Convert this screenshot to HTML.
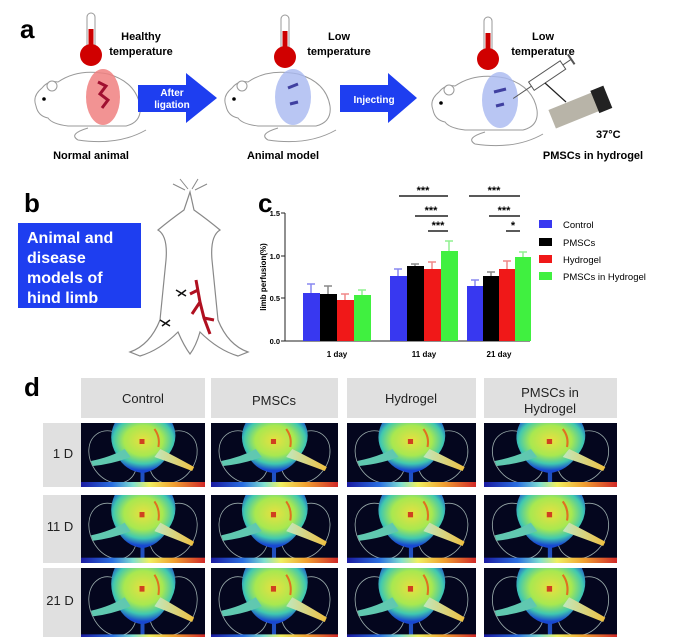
<!DOCTYPE html>
<html><head><meta charset="utf-8">
<style>
html,body{margin:0;padding:0;background:#fff;}
body{width:682px;height:637px;overflow:hidden;position:relative;font-family:"Liberation Sans",sans-serif;}
svg{position:absolute;left:0;top:0;}
</style></head><body>
<svg width="682" height="637" viewBox="0 0 682 637" font-family="Liberation Sans, sans-serif">
<defs>
<linearGradient id="cb" x1="0" x2="1" y1="0" y2="0">
<stop offset="0" stop-color="#1a1aa0"/><stop offset="0.25" stop-color="#2a6ee0"/><stop offset="0.42" stop-color="#80e0d0"/><stop offset="0.55" stop-color="#f0f060"/><stop offset="0.75" stop-color="#f0a030"/><stop offset="1" stop-color="#d02828"/>
</linearGradient>
<radialGradient id="body" cx="0.5" cy="0.35" r="0.6">
<stop offset="0" stop-color="#e8e040"/><stop offset="0.5" stop-color="#a8e850"/><stop offset="0.78" stop-color="#40c8b0"/><stop offset="1" stop-color="#1848d0"/>
</radialGradient>
<linearGradient id="leg" x1="0" x2="1"><stop offset="0" stop-color="#c0e8c0"/><stop offset="1" stop-color="#f0c040"/></linearGradient>
<g id="heat">
<rect x="0" y="0" width="125" height="64" fill="#04061e"/>
<ellipse cx="32" cy="34" rx="22" ry="28" fill="none" stroke="#9aa" stroke-width="0.8" transform="rotate(-35 32 34)"/>
<ellipse cx="93" cy="34" rx="22" ry="28" fill="none" stroke="#9aa" stroke-width="0.8" transform="rotate(35 93 34)"/>
<rect x="60" y="40" width="4" height="24" fill="#2050c0"/>
<path d="M34 0 L92 0 Q100 16 88 32 Q78 48 62 50 Q44 48 36 32 Q26 16 34 0Z" fill="url(#body)"/>
<path d="M44 26 Q30 34 10 38 L12 43 Q32 41 50 34Z" fill="#60c8b0"/>
<path d="M80 26 Q96 34 114 44 L112 48 Q94 41 74 34Z" fill="url(#leg)"/>
<rect x="59" y="16" width="5" height="5" fill="#d04020"/>
<path d="M74 6 Q80 14 78 24" stroke="#e07020" stroke-width="2" fill="none"/>
<rect x="0" y="59" width="125" height="5" fill="url(#cb)"/>
</g>
<g id="mouse" fill="#fff" stroke="#999" stroke-width="1">
<path d="M8 40 Q4 30 14 22 Q20 14 30 16 Q50 2 80 8 Q108 16 112 40 Q114 56 98 60 L40 60 Q24 58 20 52 Q10 50 8 40Z"/>
<circle cx="24" cy="20" r="5"/>
<path d="M60 62 Q40 68 50 74 Q90 80 118 64" fill="none"/>
<circle cx="16" cy="33" r="1.8" fill="#000" stroke="none"/>
</g>
<g id="therm">
<rect x="-4" y="-42" width="8" height="40" rx="4" fill="#fff" stroke="#999"/>
<rect x="-2.5" y="-26" width="5" height="24" fill="#c00"/>
<circle cx="0" cy="0" r="11" fill="#d00000"/>
</g>
</defs>

<!-- panel a -->
<text x="20" y="38" font-size="26" font-weight="bold">a</text>
<use href="#therm" x="91" y="55"/>
<text x="141" y="40" font-size="11" font-weight="bold" text-anchor="middle">Healthy</text>
<text x="141" y="55" font-size="11" font-weight="bold" text-anchor="middle">temperature</text>
<use href="#mouse" x="28" y="66"/>
<ellipse cx="103" cy="97" rx="17" ry="28" fill="#f08080" opacity="0.85"/>
<path d="M98 82 L106 86 L100 94 L108 100 L102 108" stroke="#a01030" stroke-width="3" fill="none"/>
<path d="M138 85 H186 V73 L217 98 L186 123 V112 H138Z" fill="#1e3ef0"/>
<text x="172" y="96" font-size="10" font-weight="bold" fill="#fff" text-anchor="middle">After</text>
<text x="172" y="108" font-size="10" font-weight="bold" fill="#fff" text-anchor="middle">ligation</text>
<text x="91" y="159" font-size="11" font-weight="bold" text-anchor="middle">Normal animal</text>

<use href="#therm" x="285" y="57"/>
<text x="339" y="40" font-size="11" font-weight="bold" text-anchor="middle">Low</text>
<text x="339" y="55" font-size="11" font-weight="bold" text-anchor="middle">temperature</text>
<use href="#mouse" x="218" y="66"/>
<ellipse cx="293" cy="97" rx="18" ry="28" fill="#a8b8f0" opacity="0.8"/>
<path d="M288 88 l10 -4 M290 104 l8 -2" stroke="#4040a0" stroke-width="3"/>
<path d="M340 85 H388 V73 L417 98 L388 123 V112 H340Z" fill="#1e3ef0"/>
<text x="374" y="103" font-size="10" font-weight="bold" fill="#fff" text-anchor="middle">Injecting</text>
<text x="283" y="159" font-size="11" font-weight="bold" text-anchor="middle">Animal model</text>

<use href="#therm" x="488" y="59"/>
<text x="543" y="40" font-size="11" font-weight="bold" text-anchor="middle">Low</text>
<text x="543" y="55" font-size="11" font-weight="bold" text-anchor="middle">temperature</text>
<use href="#mouse" x="425" y="70"/>
<ellipse cx="500" cy="100" rx="18" ry="28" fill="#a8b8f0" opacity="0.8"/>
<path d="M494 92 l12 -3 M496 106 l8 -2" stroke="#4040a0" stroke-width="3"/>
<g transform="rotate(-34 548 75)">
<rect x="528" y="70" width="38" height="10" fill="#fff" stroke="#555"/>
<line x1="506" y1="75" x2="528" y2="75" stroke="#555"/>
<line x1="566" y1="75" x2="576" y2="75" stroke="#555"/>
<line x1="576" y1="69" x2="576" y2="81" stroke="#555" stroke-width="2"/>
</g>
<line x1="545" y1="83" x2="566" y2="102" stroke="#222" stroke-width="1.2"/>
<g transform="rotate(-22 580 108)">
<rect x="550" y="98" width="56" height="20" fill="#b8b4a8"/>
<rect x="596" y="96" width="14" height="24" fill="#222"/>
</g>
<text x="596" y="138" font-size="11" font-weight="bold">37°C</text>
<text x="593" y="159" font-size="11" font-weight="bold" text-anchor="middle">PMSCs in hydrogel</text>

<!-- panel b -->
<text x="24" y="212" font-size="26" font-weight="bold">b</text>
<rect x="18" y="223" width="123" height="85" fill="#1e3ef0"/>
<g font-size="16" font-weight="bold" fill="#fff">
<text x="27" y="243">Animal and</text>
<text x="27" y="263">disease</text>
<text x="27" y="283">models of</text>
<text x="27" y="303">hind limb</text>
</g>
<path d="M190 192 L184 210 Q170 220 158 230 Q168 236 166 260 Q162 300 160 320 Q150 345 130 352 L140 356 Q160 350 178 332 Q184 346 190 354 Q196 346 200 332 Q218 350 238 356 L248 352 Q228 345 218 320 Q216 300 212 260 Q210 236 220 230 Q208 220 194 210Z" fill="#fff" stroke="#888" stroke-width="1.2"/>
<path d="M185 190 l-12 -6 M188 189 l-8 -10 M192 189 l6 -10 M195 190 l12 -6" stroke="#888"/>
<path d="M196 280 L200 302 L204 318 L210 334 M200 302 L192 314 M204 318 L214 320 M198 290 L190 294" stroke="#b01020" stroke-width="3" fill="none"/>
<path d="M176 290 l10 6 M178 296 l8 -6 M160 320 l10 6 M162 326 l8 -6" stroke="#111" stroke-width="1.5"/>

<!-- panel c -->
<text x="258" y="212" font-size="26" font-weight="bold">c</text>
<g stroke="#222" stroke-width="1">
<line x1="285" y1="213" x2="285" y2="341"/>
<line x1="285" y1="341" x2="530" y2="341"/>
<line x1="281" y1="213" x2="285" y2="213"/><line x1="281" y1="256" x2="285" y2="256"/><line x1="281" y1="298" x2="285" y2="298"/><line x1="281" y1="341" x2="285" y2="341"/>
</g>
<g font-size="7.5" font-weight="bold" text-anchor="end">
<text x="280" y="216">1.5</text><text x="280" y="259">1.0</text><text x="280" y="301">0.5</text><text x="280" y="344">0.0</text>
</g>
<text transform="translate(266 277) rotate(-90)" font-size="8" font-weight="bold" text-anchor="middle">limb perfusion(%)</text>
<g>
<rect x="303" y="293" width="17" height="48" fill="#3838f0"/><rect x="320" y="294" width="17" height="47" fill="#000"/><rect x="337" y="300" width="17" height="41" fill="#f01818"/><rect x="354" y="295" width="17" height="46" fill="#40f040"/>
<rect x="390" y="276" width="17" height="65" fill="#3838f0"/><rect x="407" y="266" width="17" height="75" fill="#000"/><rect x="424" y="269" width="17" height="72" fill="#f01818"/><rect x="441" y="251" width="17" height="90" fill="#40f040"/>
<rect x="467" y="286" width="16" height="55" fill="#3838f0"/><rect x="483" y="276" width="16" height="65" fill="#000"/><rect x="499" y="269" width="16" height="72" fill="#f01818"/><rect x="515" y="257" width="16" height="84" fill="#40f040"/>
</g>
<g stroke-width="1.5">
<path d="M311 293 V284 M307 284 H315" stroke="#8888f0"/><path d="M328 294 V286 M324 286 H332" stroke="#888"/><path d="M345 300 V294 M341 294 H349" stroke="#f08888"/><path d="M362 295 V290 M358 290 H366" stroke="#90f090"/>
<path d="M398 276 V269 M394 269 H402" stroke="#8888f0"/><path d="M415 266 V264 M411 264 H419" stroke="#888"/><path d="M432 269 V262 M428 262 H436" stroke="#f08888"/><path d="M449 251 V241 M445 241 H453" stroke="#90f090"/>
<path d="M475 286 V280 M471 280 H479" stroke="#8888f0"/><path d="M491 276 V272 M487 272 H495" stroke="#888"/><path d="M507 269 V261 M503 261 H511" stroke="#f08888"/><path d="M523 257 V252 M519 252 H527" stroke="#90f090"/>
</g>
<g stroke="#222" stroke-width="1.5">
<line x1="399" y1="196" x2="448" y2="196"/><line x1="415" y1="216" x2="448" y2="216"/><line x1="428" y1="231" x2="448" y2="231"/>
<line x1="469" y1="196" x2="520" y2="196"/><line x1="489" y1="216" x2="520" y2="216"/><line x1="506" y1="231" x2="520" y2="231"/>
</g>
<g font-size="11" font-weight="bold" text-anchor="middle">
<text x="423" y="194">***</text><text x="431" y="214">***</text><text x="438" y="229">***</text>
<text x="494" y="194">***</text><text x="504" y="214">***</text><text x="513" y="229">*</text>
</g>
<g font-size="8" font-weight="bold" text-anchor="middle">
<text x="337" y="357">1 day</text><text x="424" y="357">11 day</text><text x="499" y="357">21 day</text>
</g>
<rect x="539" y="220" width="13" height="8" fill="#3838f0"/><rect x="539" y="238" width="13" height="8" fill="#000"/><rect x="539" y="255" width="13" height="8" fill="#f01818"/><rect x="539" y="272" width="13" height="8" fill="#40f040"/>
<g font-size="9.5">
<text x="563" y="228">Control</text><text x="563" y="246">PMSCs</text><text x="563" y="263">Hydrogel</text><text x="563" y="280">PMSCs in Hydrogel</text>
</g>

<!-- panel d -->
<text x="24" y="396" font-size="26" font-weight="bold">d</text>
<g fill="#e0e0e0">
<rect x="81" y="378" width="124" height="40"/><rect x="211" y="378" width="127" height="40"/><rect x="347" y="378" width="129" height="40"/><rect x="484" y="378" width="133" height="40"/>
<rect x="43" y="423" width="38" height="64"/><rect x="43" y="495" width="38" height="68"/><rect x="43" y="568" width="38" height="69"/>
</g>
<g font-size="13" text-anchor="middle" fill="#222">
<text x="143" y="403">Control</text><text x="274" y="405">PMSCs</text><text x="411" y="403">Hydrogel</text>
<text x="550" y="397">PMSCs in</text><text x="550" y="413">Hydrogel</text>
<text x="63" y="458">1 D</text><text x="60" y="531">11 D</text><text x="60" y="605">21 D</text>
</g>
<g>
<svg x="81" y="423" width="124" height="64" viewBox="0 0 125 64" preserveAspectRatio="none"><use href="#heat"/></svg>
<svg x="211" y="423" width="127" height="64" viewBox="0 0 125 64" preserveAspectRatio="none"><use href="#heat"/></svg>
<svg x="347" y="423" width="129" height="64" viewBox="0 0 125 64" preserveAspectRatio="none"><use href="#heat"/></svg>
<svg x="484" y="423" width="133" height="64" viewBox="0 0 125 64" preserveAspectRatio="none"><use href="#heat"/></svg>
<svg x="81" y="495" width="124" height="68" viewBox="0 0 125 64" preserveAspectRatio="none"><use href="#heat"/></svg>
<svg x="211" y="495" width="127" height="68" viewBox="0 0 125 64" preserveAspectRatio="none"><use href="#heat"/></svg>
<svg x="347" y="495" width="129" height="68" viewBox="0 0 125 64" preserveAspectRatio="none"><use href="#heat"/></svg>
<svg x="484" y="495" width="133" height="68" viewBox="0 0 125 64" preserveAspectRatio="none"><use href="#heat"/></svg>
<svg x="81" y="568" width="124" height="72" viewBox="0 0 125 64" preserveAspectRatio="none"><use href="#heat"/></svg>
<svg x="211" y="568" width="127" height="72" viewBox="0 0 125 64" preserveAspectRatio="none"><use href="#heat"/></svg>
<svg x="347" y="568" width="129" height="72" viewBox="0 0 125 64" preserveAspectRatio="none"><use href="#heat"/></svg>
<svg x="484" y="568" width="133" height="72" viewBox="0 0 125 64" preserveAspectRatio="none"><use href="#heat"/></svg>
</g>
</svg>
</body></html>
